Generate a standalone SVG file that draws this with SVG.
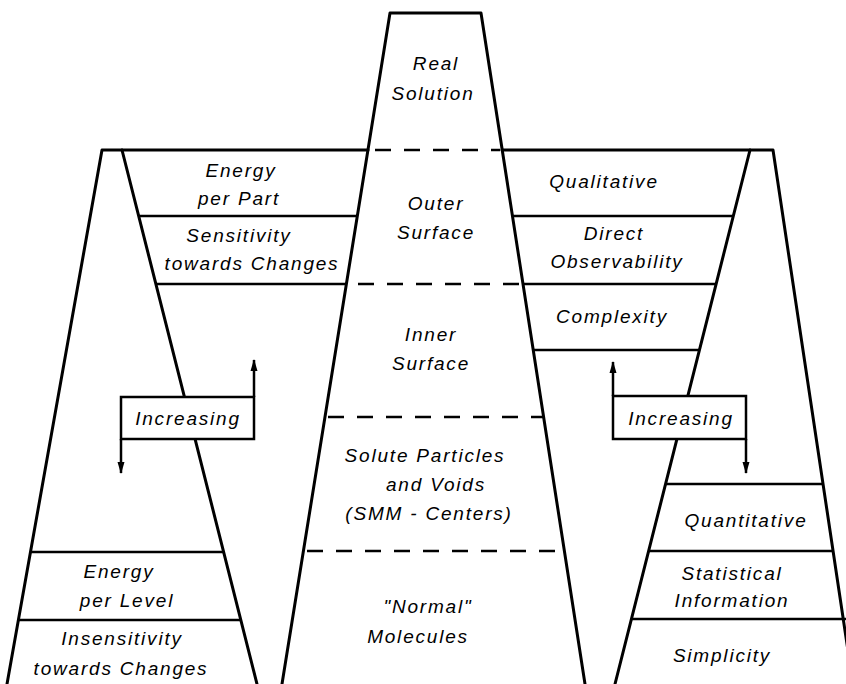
<svg xmlns="http://www.w3.org/2000/svg" width="846" height="684" viewBox="0 0 846 684">
  <style>
    .edge { fill: none; stroke: #000; stroke-width: 3; stroke-linejoin: round; stroke-linecap: round; }
    .band { fill: none; stroke: #000; stroke-width: 2.5; }
    .dash { fill: none; stroke: #000; stroke-width: 2.5; stroke-dasharray: 16 13; }
    .box { fill: #fff; stroke: #000; stroke-width: 2.5; }
    .arrow { fill: none; stroke: #000; stroke-width: 2.5; marker-end: url(#head); }
    text { font-family: "Liberation Sans", Arial, sans-serif; font-style: italic; font-size: 19px; letter-spacing: 1.8px; fill: #000; text-anchor: middle; }
  </style>
  <defs>
    <marker id="head" viewBox="0 0 12 8" refX="11" refY="4" markerWidth="12" markerHeight="8" markerUnits="userSpaceOnUse" orient="auto">
      <path d="M0,0.5 L12,4 L0,7.5 Z" fill="#000"/>
    </marker>
  </defs>
  <rect width="846" height="684" fill="#fff"/>

  <!-- central column: real solution down to normal molecules -->
  <g id="central">
    <path class="edge" d="M282,684 L390,13 L481,13 L585,684"/>
    <line class="dash" x1="375" y1="150" x2="500" y2="150"/>
    <line class="dash" x1="358" y1="284" x2="522" y2="284"/>
    <line class="dash" x1="328" y1="417" x2="543" y2="417"/>
    <line class="dash" x1="307" y1="551" x2="564" y2="551"/>
    <text x="436" y="70">Real</text>
    <text x="433" y="100">Solution</text>
    <text x="436" y="210">Outer</text>
    <text x="436" y="239">Surface</text>
    <text x="431" y="341">Inner</text>
    <text x="431" y="370">Surface</text>
    <text x="425" y="462">Solute  Particles</text>
    <text x="436" y="491">and  Voids</text>
    <text x="429" y="520">(SMM - Centers)</text>
    <text x="428" y="613">"Normal"</text>
    <text x="418" y="643">Molecules</text>
  </g>

  <!-- left column: energy / sensitivity -->
  <g id="left">
    <path class="edge" d="M7,684 L102,150 L368,150"/>
    <line class="edge" x1="122" y1="150" x2="257" y2="684"/>
    <line class="band" x1="139" y1="216" x2="357" y2="216"/>
    <line class="band" x1="156" y1="284" x2="347" y2="284"/>
    <line class="band" x1="30" y1="552" x2="224" y2="552"/>
    <line class="band" x1="18" y1="620" x2="241" y2="620"/>
    <text x="241" y="177">Energy</text>
    <text x="239" y="205">per  Part</text>
    <text x="239" y="242">Sensitivity</text>
    <text x="252" y="270">towards  Changes</text>
    <text x="119" y="578">Energy</text>
    <text x="127" y="607">per  Level</text>
    <text x="122" y="645">Insensitivity</text>
    <text x="121" y="675">towards  Changes</text>
  </g>

  <!-- right column: qualitative / quantitative -->
  <g id="right">
    <path class="edge" d="M502,150 L773,150 L853,684"/>
    <line class="edge" x1="750" y1="150" x2="615" y2="684"/>
    <line class="band" x1="512" y1="216" x2="733" y2="216"/>
    <line class="band" x1="523" y1="284" x2="716" y2="284"/>
    <line class="band" x1="533" y1="350" x2="700" y2="350"/>
    <line class="band" x1="666" y1="484" x2="823" y2="484"/>
    <line class="band" x1="649" y1="551" x2="833" y2="551"/>
    <line class="band" x1="632" y1="619" x2="846" y2="619"/>
    <text x="604" y="188">Qualitative</text>
    <text x="614" y="240">Direct</text>
    <text x="617" y="268">Observability</text>
    <text x="612" y="323">Complexity</text>
    <text x="746" y="527">Quantitative</text>
    <text x="732" y="580">Statistical</text>
    <text x="732" y="607">Information</text>
    <text x="722" y="662">Simplicity</text>
  </g>

  <!-- increasing indicators with up/down arrows -->
  <g id="connectors">
    <line class="arrow" x1="254" y1="397" x2="254" y2="360"/>
    <line class="arrow" x1="121" y1="439" x2="121" y2="473"/>
    <line class="arrow" x1="613" y1="396" x2="613" y2="362"/>
    <line class="arrow" x1="746" y1="439" x2="746" y2="473"/>
  </g>
  <g id="increasing-left">
    <rect class="box" x="121" y="397" width="133" height="42"/>
    <text x="188" y="425">Increasing</text>
  </g>
  <g id="increasing-right">
    <rect class="box" x="613" y="396" width="133" height="43"/>
    <text x="681" y="425">Increasing</text>
  </g>
</svg>
